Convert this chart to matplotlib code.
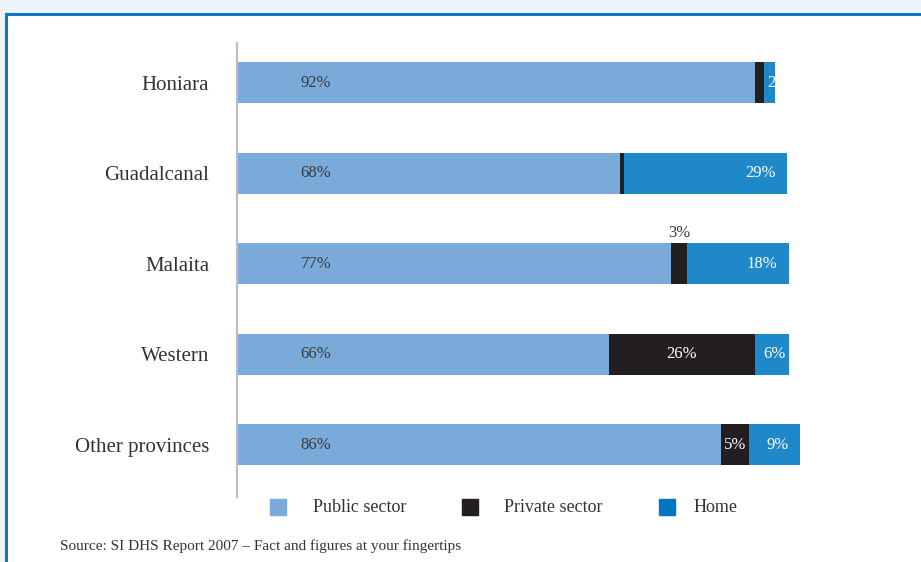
import matplotlib.pyplot as plt
from matplotlib.patches import Rectangle

plt.rcParams['font.family'] = ['Liberation Serif', 'DejaVu Serif']

regions = ["Honiara", "Guadalcanal", "Malaita", "Western", "Other provinces"]
public = [92, 68, 77, 66, 86]
private = [1.6, 0.7, 3, 26, 5]
home = [2, 29, 18, 6, 9]
# which private shares get a printed label
private_lbl = [None, None, "3%", "26%", "5%"]

c_pub = "#7aaada"
c_priv = "#231f20"
c_home = "#1f88c9"

fig = plt.figure(figsize=(9.21, 5.62), dpi=100, facecolor="#eef3fb")
# white panel with blue frame, kept behind the axes
frame = Rectangle((5.5 / 921, -0.1), 1.2, 1.1 - 14 / 562, transform=fig.transFigure,
                  facecolor="white", edgecolor="#0a78c2", lw=2.2, zorder=-1)
fig.patches.append(frame)

ax = fig.add_axes([237 / 921, 1 - 497 / 562, 563 / 921, 454 / 562])
ax.set_facecolor("none")

y = list(range(len(regions)))
h = 0.453
left2 = [a + b for a, b in zip(public, private)]
ax.barh(y, public, height=h, color=c_pub)
ax.barh(y, private, left=public, height=h, color=c_priv)
bh = ax.barh(y, home, left=left2, height=h, color=c_home)

ax.set_xlim(0, 100)
ax.set_ylim(4.58, -0.44)

fs = 12
for i in y:
    ax.text(14, i, f"{public[i]}%", ha="center", va="center", fontsize=fs, color="#3a3a3a")
    end = left2[i] + home[i]
    if i == 0:
        # tiny segment: label runs past the bar and is cut by it
        t = ax.text(left2[i] + 0.5, i, f"{home[i]}%", ha="left", va="center",
                    fontsize=fs, color="white")
        t.set_clip_path(bh.patches[i])
    elif home[i] < 10:
        ax.text(left2[i] + home[i] / 2 + 0.5, i, f"{home[i]}%", ha="center", va="center",
                fontsize=fs, color="white")
    else:
        ax.text(end - 2, i, f"{home[i]}%", ha="right", va="center", fontsize=fs, color="white")
    lbl = private_lbl[i]
    if lbl is None:
        continue
    mid = public[i] + private[i] / 2
    if private[i] < 4:
        ax.text(mid, i - 0.34, lbl, ha="center", va="center", fontsize=fs, color="#3a3a3a")
    else:
        ax.text(mid, i, lbl, ha="center", va="center", fontsize=fs, color="white")

for s in ["top", "right", "bottom"]:
    ax.spines[s].set_visible(False)
ax.spines["left"].set_color("#bdbdc2")
ax.spines["left"].set_linewidth(1.6)
ax.set_xticks([])
ax.set_yticks(y)
ax.set_yticklabels(regions, fontsize=15, color="#333333")
ax.tick_params(axis="y", length=0, pad=20)

# legend row
leg_y = 1 - 507 / 562
items = [("Public sector", "#7aaada", 278, 313),
         ("Private sector", c_priv, 470, 504),
         ("Home", "#0077c0", 667, 694)]
for name, col, sx, tx in items:
    fig.patches.append(Rectangle(((sx - 8) / 921, leg_y - 8 / 562), 16 / 921, 16 / 562,
                                 transform=fig.transFigure, color=col))
    fig.text(tx / 921, leg_y, name, ha="left", va="center", fontsize=13, color="#333333")

fig.text(60 / 921, 1 - 546 / 562,
         "Source: SI DHS Report 2007 \u2013 Fact and figures at your fingertips",
         ha="left", va="center", fontsize=11, color="#333333")

fig.savefig("out.png", dpi=100, facecolor=fig.get_facecolor())
